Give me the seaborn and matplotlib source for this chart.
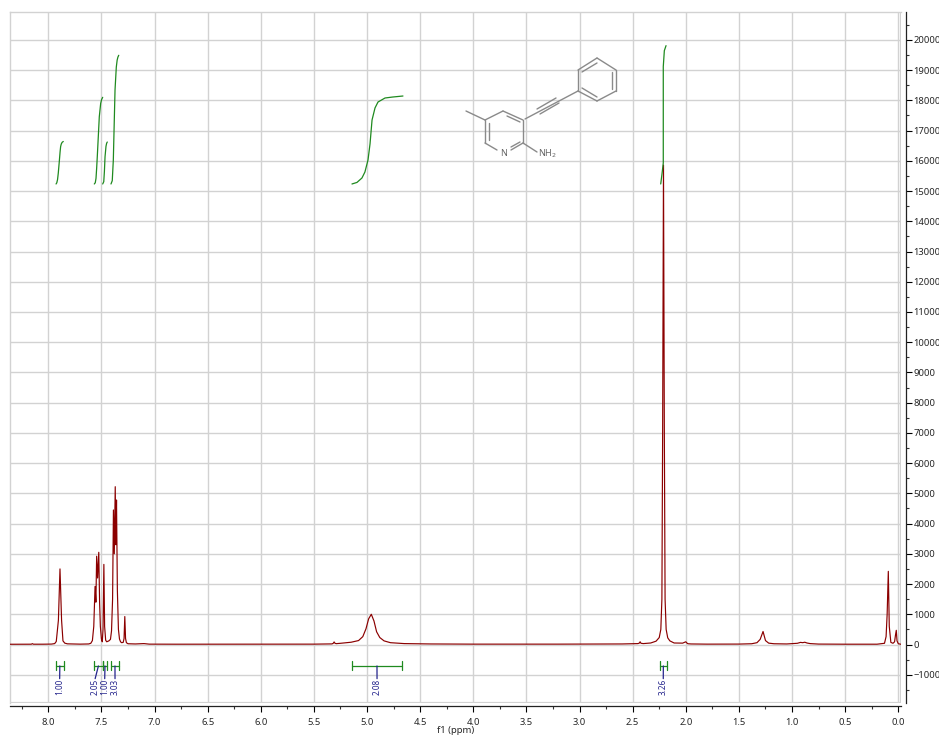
import matplotlib
matplotlib.use('Agg')
import matplotlib.pyplot as plt
import matplotlib.ticker as mticker
import seaborn as sns

# spectrum, region by region (ppm / intensity rows line up)
ppm_a = [8.36, 8.20, 8.16, 8.15, 8.14, 8.05, 7.97, 7.94, 7.925, 7.905, 7.89, 7.875, 7.862, 7.845, 7.82, 7.70, 7.62]
int_a = [8,    8,    10,   28,   10,   10,   14,   30,   100,   800,   2500, 800,   120,   45,    22,   12,   18]

ppm_b = [7.60, 7.585, 7.572, 7.56, 7.552, 7.545, 7.536, 7.525, 7.517, 7.51, 7.50, 7.492, 7.485, 7.477, 7.47, 7.46, 7.45, 7.43]
int_b = [40,   130,   600,   1920, 1400,  2920,  2200,  3050,  1370,  600,  180,  90,    500,   2650,  600,  140,  90,   120]

ppm_c = [7.415, 7.405, 7.395, 7.387, 7.379, 7.37, 7.364, 7.358, 7.35, 7.34, 7.33, 7.32, 7.31, 7.295, 7.287, 7.28, 7.273, 7.265, 7.25, 7.18, 7.10, 7.05]
int_c = [170,   450,   1500,  4450,  3000,  5220, 3300,  4780,  1800, 500,  180,  90,   60,   70,    200,   925,  200,   60,    25,   18,   30,   12]

ppm_d = [6.8, 6.0, 5.5, 5.33, 5.318, 5.31, 5.302, 5.29, 5.25, 5.15, 5.08, 5.04, 5.01, 4.985, 4.96, 4.935, 4.91, 4.88, 4.84, 4.78, 4.65, 4.4, 4.0, 3.2, 2.6]
int_d = [10,  9,   12,  20,   40,    85,   40,    28,   40,   75,   130,  260,  520,  850,   1000, 780,   420,  230,  120,  60,   30,   18,  12,  12,  18]

ppm_e = [2.45, 2.438, 2.43, 2.422, 2.40, 2.33, 2.28, 2.25, 2.235, 2.225, 2.218, 2.21, 2.202, 2.195, 2.185, 2.17, 2.15, 2.11, 2.03, 2.0, 1.99, 1.98, 1.95]
int_e = [30,   45,    90,   40,    30,   50,   110,  230,  500,   1500,  7000,  15860, 7000, 1500,  500,   220,  120,  50,   45,   90,  50,   25,   18]

ppm_f = [1.8, 1.5, 1.38, 1.33, 1.30, 1.285, 1.273, 1.261, 1.25, 1.22, 1.17, 1.05, 0.95, 0.92, 0.90, 0.88, 0.86, 0.83, 0.75, 0.5]
int_f = [12,  14,  25,   60,   170,  320,   430,   280,   130,  45,   25,   18,   40,   70,   60,   75,   50,   30,   14,   10]

ppm_g = [0.2, 0.13, 0.115, 0.105, 0.094, 0.085, 0.07, 0.05, 0.035, 0.027, 0.019, 0.012, 0.0, -0.025]
int_g = [10,  40,   260,   1000,  2420,  600,   70,   40,   90,    300,   470,   120,   25,  8]

ppm = ppm_a + ppm_b + ppm_c + ppm_d + ppm_e + ppm_f + ppm_g
intensity = int_a + int_b + int_c + int_d + int_e + int_f + int_g

# integral curves
int_ppm = [
    [7.927, 7.920, 7.913, 7.906, 7.896, 7.889, 7.884, 7.878, 7.870, 7.859],
    [7.567, 7.558, 7.551, 7.545, 7.539, 7.520, 7.507, 7.498, 7.488],
    [7.488, 7.478, 7.472, 7.466, 7.457, 7.451, 7.445],
    [7.410, 7.398, 7.388, 7.372, 7.360, 7.352, 7.345, 7.337],
    [5.142, 5.095, 5.048, 5.020, 4.991, 4.972, 4.953, 4.925, 4.897, 4.831, 4.760, 4.662],
    [2.236, 2.224, 2.212, 2.212, 2.202, 2.186],
]
int_val = [
    [15234, 15275, 15380, 15595, 16000, 16300, 16470, 16555, 16610, 16640],
    [15234, 15275, 15420, 15750, 16136, 17459, 17900, 18030, 18101],
    [15234, 15310, 15650, 16136, 16480, 16580, 16622],
    [15234, 15343, 16028, 18344, 19100, 19330, 19430, 19491],
    [15234, 15285, 15432, 15630, 16028, 16560, 17351, 17750, 17945, 18078, 18110, 18144],
    [15234, 15566, 15930, 19115, 19644, 19810],
]

# integration brackets and labels
br_from = [7.930, 7.569, 7.488, 7.413, 5.142, 2.243]
br_to = [7.853, 7.488, 7.445, 7.332, 4.671, 2.180]
br_label_x = [7.893, 7.559, 7.469, 7.372, 4.906, 2.212]
br_labels = ['1.00', '2.05', '1.00', '3.03', '2.08', '3.26']

# structure drawing, in picture pixels
mol_bonds = [
    [(466, 111), (485, 120)], [(485, 120), (503, 111)], [(503, 111), (523, 120)],
    [(507, 116), (520, 122)], [(523, 120), (523, 143)], [(485, 120), (485, 143)],
    [(489, 123), (489, 140)], [(485, 143), (497, 150)], [(523, 143), (511, 150)],
    [(520, 142), (511, 147)], [(523, 143), (537, 152)], [(525, 119), (578, 91)],
    [(537, 109), (556, 98)], [(540, 114), (559, 103)], [(578, 91), (578, 70)],
    [(578, 70), (597, 58)], [(597, 58), (616, 70)], [(616, 70), (616, 91)],
    [(616, 91), (597, 101)], [(597, 101), (578, 91)], [(582, 72), (597, 63)],
    [(612, 72), (612, 89)], [(597, 97), (582, 88)],
]

W, H = 939, 738
L, R, T, B = 10, 901, 12, 703
X0, PX_PPM = 898.3, 106.25
Y0, PX_UNIT = 644.5, 0.03023

sns.set_style('white')
plt.rcParams['font.family'] = ['Noto Sans', 'DejaVu Sans']

fig = plt.figure(figsize=(W / 100, H / 100), dpi=100)
ax = fig.add_axes([L / W, 1 - B / H, (R - L) / W, (B - T) / H])

red = '#8b0000'
green = '#1f8a1f'
blue = '#24248c'
gridc = '#d2d2d2'

sns.lineplot(x=ppm, y=intensity, estimator=None, sort=False, color=red, lw=0.85, ax=ax, zorder=3)
for xs, ys in zip(int_ppm, int_val):
    sns.lineplot(x=xs, y=ys, estimator=None, sort=False, color=green, lw=0.9, ax=ax, zorder=4)

for a, b, lx, lab in zip(br_from, br_to, br_label_x, br_labels):
    ax.plot([a, b], [-710, -710], color=green, lw=0.9, zorder=4)
    ax.plot([a, a], [-560, -850], color=green, lw=0.9, zorder=4)
    ax.plot([b, b], [-560, -850], color=green, lw=0.9, zorder=4)
    ax.plot([(a + b) / 2, lx], [-710, -1130], color=blue, lw=0.9, zorder=4)
    ax.text(lx, -1410, lab, color=blue, fontsize=5.9, rotation=90, ha='center', va='center')

ax.set_xlim((X0 - L) / PX_PPM, (X0 - R) / PX_PPM)
ax.set_ylim((Y0 - B) / PX_UNIT, (Y0 - T) / PX_UNIT)

ax.xaxis.set_major_locator(mticker.MultipleLocator(0.5))
ax.xaxis.set_minor_locator(mticker.MultipleLocator(0.25))
ax.xaxis.set_major_formatter(mticker.FormatStrFormatter('%.1f'))
ax.yaxis.set_major_locator(mticker.MultipleLocator(1000))
ax.yaxis.set_minor_locator(mticker.MultipleLocator(500))
ax.yaxis.tick_right()
ax.grid(which='major', color=gridc, lw=1.0)
ax.set_axisbelow(True)

ax.tick_params(axis='x', which='major', direction='out', bottom=True, length=4.3, width=0.8, labelsize=6.8, pad=4.5, color='black')
ax.tick_params(axis='x', which='minor', direction='out', bottom=True, length=2.2, width=0.8, color='#333333')
ax.tick_params(axis='y', which='major', direction='out', right=True, length=4.3, width=0.8, labelsize=6.8, pad=1.2, color='black')
ax.tick_params(axis='y', which='minor', direction='out', right=True, length=2.2, width=0.8, color='#333333')

for side in ['left', 'top']:
    ax.spines[side].set_color(gridc)
    ax.spines[side].set_linewidth(1.0)
ax.spines['bottom'].set_position(('outward', 2.2))
ax.spines['bottom'].set_color('#222222')
ax.spines['bottom'].set_linewidth(0.9)
ax.spines['right'].set_position(('outward', 3.4))
ax.spines['right'].set_color('#222222')
ax.spines['right'].set_linewidth(0.9)
ax.axvline((X0 - R) / PX_PPM, color=gridc, lw=1.6, zorder=1)
ax.axhline((Y0 - B) / PX_UNIT, color=gridc, lw=1.6, zorder=1)

ax.set_xlabel('f1 (ppm)', fontsize=6.8, labelpad=-1.0)

# overlay for the structure
over = fig.add_axes([0, 0, 1, 1])
over.set_xlim(0, W)
over.set_ylim(H, 0)
over.axis('off')
over.patch.set_alpha(0)
for seg in mol_bonds:
    over.plot([seg[0][0], seg[1][0]], [seg[0][1], seg[1][1]], color='#8a8a8a', lw=1.0)
over.text(504, 153, 'N', color='#666666', fontsize=6.5, ha='center', va='center')
over.text(548, 154, 'NH$_2$', color='#666666', fontsize=6.5, ha='center', va='center')

fig.savefig('out.png', dpi=100)
